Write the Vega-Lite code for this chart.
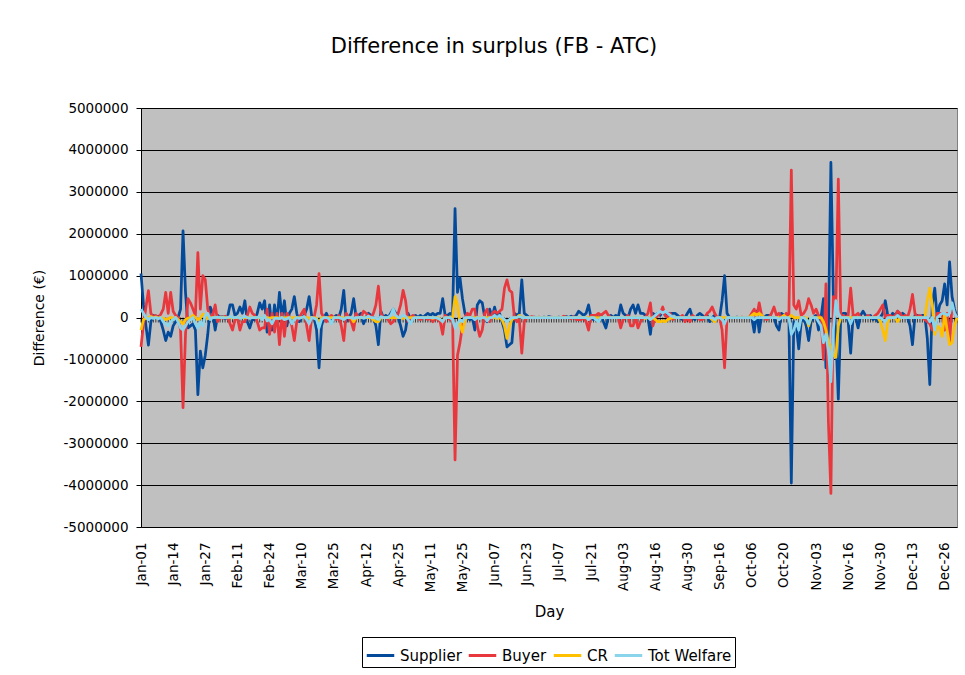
{
"$schema": "https://vega.github.io/schema/vega-lite/v6.json",
"autosize": "none",
"width": 816,
"height": 419,
"padding": {"left": 141, "top": 108, "right": 8, "bottom": 148},
"background": "white",
"title": {"text": "Difference in surplus (FB - ATC)", "fontSize": 21, "fontWeight": "normal", "font": "DejaVu Sans", "color": "black", "anchor": "middle", "frame": "group", "dx": -55, "offset": 44},
"data": {"values": [
{"d":"Jan-01","Supplier":1050000,"Buyer":-700000,"CR":-300000,"Tot Welfare":200000},
{"d":"Jan-02","Supplier":300000,"Buyer":-150000,"CR":-50000,"Tot Welfare":100000},
{"d":"Jan-03","Supplier":-200000,"Buyer":250000,"CR":-20000,"Tot Welfare":0},
{"d":"Jan-04","Supplier":-660000,"Buyer":640000,"CR":0,"Tot Welfare":-50000},
{"d":"Jan-05","Supplier":-100000,"Buyer":100000,"CR":20000,"Tot Welfare":0},
{"d":"Jan-06","Supplier":50000,"Buyer":0,"CR":0,"Tot Welfare":-20000},
{"d":"Jan-07","Supplier":0,"Buyer":50000,"CR":10000,"Tot Welfare":0},
{"d":"Jan-08","Supplier":30000,"Buyer":-20000,"CR":-10000,"Tot Welfare":-30000},
{"d":"Jan-09","Supplier":-100000,"Buyer":80000,"CR":0,"Tot Welfare":0},
{"d":"Jan-10","Supplier":-300000,"Buyer":200000,"CR":-20000,"Tot Welfare":-100000},
{"d":"Jan-11","Supplier":-550000,"Buyer":600000,"CR":-50000,"Tot Welfare":-150000},
{"d":"Jan-12","Supplier":-350000,"Buyer":100000,"CR":-30000,"Tot Welfare":-200000},
{"d":"Jan-13","Supplier":-450000,"Buyer":600000,"CR":0,"Tot Welfare":-100000},
{"d":"Jan-14","Supplier":-200000,"Buyer":150000,"CR":-20000,"Tot Welfare":-50000},
{"d":"Jan-15","Supplier":-100000,"Buyer":50000,"CR":0,"Tot Welfare":0},
{"d":"Jan-16","Supplier":0,"Buyer":0,"CR":-50000,"Tot Welfare":-100000},
{"d":"Jan-17","Supplier":200000,"Buyer":-300000,"CR":-100000,"Tot Welfare":-250000},
{"d":"Jan-18","Supplier":2070000,"Buyer":-2150000,"CR":-150000,"Tot Welfare":-300000},
{"d":"Jan-19","Supplier":600000,"Buyer":-400000,"CR":-50000,"Tot Welfare":-200000},
{"d":"Jan-20","Supplier":-250000,"Buyer":450000,"CR":-20000,"Tot Welfare":-100000},
{"d":"Jan-21","Supplier":-200000,"Buyer":350000,"CR":0,"Tot Welfare":-50000},
{"d":"Jan-22","Supplier":-150000,"Buyer":200000,"CR":50000,"Tot Welfare":0},
{"d":"Jan-23","Supplier":-300000,"Buyer":50000,"CR":0,"Tot Welfare":-150000},
{"d":"Jan-24","Supplier":-1840000,"Buyer":1550000,"CR":-50000,"Tot Welfare":-250000},
{"d":"Jan-25","Supplier":-800000,"Buyer":200000,"CR":-20000,"Tot Welfare":-100000},
{"d":"Jan-26","Supplier":-1200000,"Buyer":1000000,"CR":80000,"Tot Welfare":-200000},
{"d":"Jan-27","Supplier":-900000,"Buyer":900000,"CR":50000,"Tot Welfare":50000},
{"d":"Jan-28","Supplier":-400000,"Buyer":200000,"CR":-30000,"Tot Welfare":100000},
{"d":"Jan-29","Supplier":250000,"Buyer":0,"CR":0,"Tot Welfare":-50000},
{"d":"Jan-30","Supplier":100000,"Buyer":50000,"CR":0,"Tot Welfare":0},
{"d":"Jan-31","Supplier":-300000,"Buyer":300000,"CR":10000,"Tot Welfare":0},
{"d":"Feb-01","Supplier":50000,"Buyer":-100000,"CR":0,"Tot Welfare":10000},
{"d":"Feb-02","Supplier":0,"Buyer":20000,"CR":0,"Tot Welfare":0},
{"d":"Feb-03","Supplier":20000,"Buyer":-20000,"CR":10000,"Tot Welfare":0},
{"d":"Feb-04","Supplier":-30000,"Buyer":30000,"CR":0,"Tot Welfare":-10000},
{"d":"Feb-05","Supplier":10000,"Buyer":0,"CR":0,"Tot Welfare":0},
{"d":"Feb-06","Supplier":300000,"Buyer":-150000,"CR":0,"Tot Welfare":20000},
{"d":"Feb-07","Supplier":300000,"Buyer":-300000,"CR":-10000,"Tot Welfare":0},
{"d":"Feb-08","Supplier":50000,"Buyer":-50000,"CR":0,"Tot Welfare":0},
{"d":"Feb-11","Supplier":100000,"Buyer":0,"CR":0,"Tot Welfare":10000},
{"d":"Feb-12","Supplier":250000,"Buyer":-300000,"CR":-10000,"Tot Welfare":-20000},
{"d":"Feb-13","Supplier":100000,"Buyer":-100000,"CR":0,"Tot Welfare":0},
{"d":"Feb-14","Supplier":400000,"Buyer":-100000,"CR":0,"Tot Welfare":30000},
{"d":"Feb-15","Supplier":-100000,"Buyer":50000,"CR":0,"Tot Welfare":0},
{"d":"Feb-16","Supplier":-250000,"Buyer":250000,"CR":0,"Tot Welfare":-20000},
{"d":"Feb-17","Supplier":-50000,"Buyer":100000,"CR":0,"Tot Welfare":0},
{"d":"Feb-18","Supplier":-50000,"Buyer":50000,"CR":0,"Tot Welfare":0},
{"d":"Feb-19","Supplier":100000,"Buyer":-100000,"CR":0,"Tot Welfare":0},
{"d":"Feb-20","Supplier":350000,"Buyer":-300000,"CR":-10000,"Tot Welfare":20000},
{"d":"Feb-21","Supplier":200000,"Buyer":-250000,"CR":0,"Tot Welfare":-50000},
{"d":"Feb-22","Supplier":400000,"Buyer":-250000,"CR":0,"Tot Welfare":50000},
{"d":"Feb-23","Supplier":-350000,"Buyer":200000,"CR":0,"Tot Welfare":-80000},
{"d":"Feb-24","Supplier":300000,"Buyer":-400000,"CR":-20000,"Tot Welfare":-50000},
{"d":"Feb-25","Supplier":-300000,"Buyer":100000,"CR":0,"Tot Welfare":-150000},
{"d":"Feb-26","Supplier":300000,"Buyer":-350000,"CR":0,"Tot Welfare":-20000},
{"d":"Feb-27","Supplier":-100000,"Buyer":100000,"CR":0,"Tot Welfare":-20000},
{"d":"Feb-28","Supplier":600000,"Buyer":-650000,"CR":-20000,"Tot Welfare":-30000},
{"d":"Mar-01","Supplier":0,"Buyer":100000,"CR":0,"Tot Welfare":0},
{"d":"Mar-02","Supplier":400000,"Buyer":-450000,"CR":-10000,"Tot Welfare":-50000},
{"d":"Mar-03","Supplier":-200000,"Buyer":100000,"CR":0,"Tot Welfare":-30000},
{"d":"Mar-04","Supplier":100000,"Buyer":0,"CR":0,"Tot Welfare":0},
{"d":"Mar-05","Supplier":200000,"Buyer":-200000,"CR":-10000,"Tot Welfare":-150000},
{"d":"Mar-06","Supplier":500000,"Buyer":-550000,"CR":0,"Tot Welfare":-50000},
{"d":"Mar-07","Supplier":100000,"Buyer":-100000,"CR":0,"Tot Welfare":0},
{"d":"Mar-08","Supplier":-100000,"Buyer":0,"CR":0,"Tot Welfare":-20000},
{"d":"Mar-10","Supplier":0,"Buyer":100000,"CR":0,"Tot Welfare":0},
{"d":"Mar-11","Supplier":50000,"Buyer":200000,"CR":10000,"Tot Welfare":20000},
{"d":"Mar-12","Supplier":200000,"Buyer":-200000,"CR":0,"Tot Welfare":-50000},
{"d":"Mar-13","Supplier":500000,"Buyer":-550000,"CR":-20000,"Tot Welfare":-150000},
{"d":"Mar-14","Supplier":50000,"Buyer":0,"CR":0,"Tot Welfare":0},
{"d":"Mar-15","Supplier":0,"Buyer":0,"CR":0,"Tot Welfare":-20000},
{"d":"Mar-16","Supplier":-300000,"Buyer":300000,"CR":-20000,"Tot Welfare":-50000},
{"d":"Mar-17","Supplier":-1200000,"Buyer":1050000,"CR":-150000,"Tot Welfare":-250000},
{"d":"Mar-18","Supplier":-200000,"Buyer":100000,"CR":0,"Tot Welfare":-50000},
{"d":"Mar-19","Supplier":0,"Buyer":0,"CR":0,"Tot Welfare":0},
{"d":"Mar-20","Supplier":100000,"Buyer":-100000,"CR":0,"Tot Welfare":0},
{"d":"Mar-21","Supplier":-50000,"Buyer":0,"CR":0,"Tot Welfare":-30000},
{"d":"Mar-22","Supplier":-100000,"Buyer":50000,"CR":0,"Tot Welfare":-150000},
{"d":"Mar-25","Supplier":0,"Buyer":0,"CR":0,"Tot Welfare":0},
{"d":"Mar-26","Supplier":50000,"Buyer":-50000,"CR":0,"Tot Welfare":0},
{"d":"Mar-27","Supplier":0,"Buyer":50000,"CR":0,"Tot Welfare":0},
{"d":"Mar-28","Supplier":200000,"Buyer":-200000,"CR":0,"Tot Welfare":-20000},
{"d":"Mar-29","Supplier":650000,"Buyer":-550000,"CR":-20000,"Tot Welfare":-50000},
{"d":"Mar-30","Supplier":-100000,"Buyer":100000,"CR":0,"Tot Welfare":0},
{"d":"Mar-31","Supplier":0,"Buyer":0,"CR":0,"Tot Welfare":0},
{"d":"Apr-01","Supplier":100000,"Buyer":-100000,"CR":-10000,"Tot Welfare":0},
{"d":"Apr-02","Supplier":450000,"Buyer":-300000,"CR":-100000,"Tot Welfare":-30000},
{"d":"Apr-03","Supplier":0,"Buyer":100000,"CR":0,"Tot Welfare":0},
{"d":"Apr-04","Supplier":50000,"Buyer":0,"CR":0,"Tot Welfare":0},
{"d":"Apr-05","Supplier":100000,"Buyer":0,"CR":0,"Tot Welfare":10000},
{"d":"Apr-06","Supplier":-150000,"Buyer":150000,"CR":0,"Tot Welfare":-20000},
{"d":"Apr-12","Supplier":0,"Buyer":100000,"CR":0,"Tot Welfare":0},
{"d":"Apr-13","Supplier":100000,"Buyer":50000,"CR":0,"Tot Welfare":30000},
{"d":"Apr-14","Supplier":50000,"Buyer":0,"CR":0,"Tot Welfare":0},
{"d":"Apr-15","Supplier":0,"Buyer":100000,"CR":-50000,"Tot Welfare":0},
{"d":"Apr-16","Supplier":-200000,"Buyer":300000,"CR":-100000,"Tot Welfare":-20000},
{"d":"Apr-17","Supplier":-650000,"Buyer":750000,"CR":-100000,"Tot Welfare":-50000},
{"d":"Apr-18","Supplier":150000,"Buyer":100000,"CR":0,"Tot Welfare":20000},
{"d":"Apr-19","Supplier":0,"Buyer":0,"CR":0,"Tot Welfare":0},
{"d":"Apr-20","Supplier":50000,"Buyer":0,"CR":0,"Tot Welfare":0},
{"d":"Apr-21","Supplier":0,"Buyer":-50000,"CR":0,"Tot Welfare":0},
{"d":"Apr-22","Supplier":100000,"Buyer":-150000,"CR":0,"Tot Welfare":50000},
{"d":"Apr-23","Supplier":200000,"Buyer":-100000,"CR":0,"Tot Welfare":200000},
{"d":"Apr-24","Supplier":100000,"Buyer":0,"CR":0,"Tot Welfare":50000},
{"d":"Apr-25","Supplier":0,"Buyer":100000,"CR":0,"Tot Welfare":0},
{"d":"Apr-26","Supplier":-200000,"Buyer":300000,"CR":0,"Tot Welfare":0},
{"d":"Apr-27","Supplier":-450000,"Buyer":650000,"CR":-20000,"Tot Welfare":50000},
{"d":"Apr-28","Supplier":-300000,"Buyer":400000,"CR":0,"Tot Welfare":30000},
{"d":"Apr-29","Supplier":100000,"Buyer":-100000,"CR":0,"Tot Welfare":-50000},
{"d":"Apr-30","Supplier":-50000,"Buyer":0,"CR":0,"Tot Welfare":-150000},
{"d":"May-01","Supplier":0,"Buyer":50000,"CR":0,"Tot Welfare":-20000},
{"d":"May-02","Supplier":50000,"Buyer":0,"CR":0,"Tot Welfare":0},
{"d":"May-03","Supplier":0,"Buyer":0,"CR":0,"Tot Welfare":0},
{"d":"May-04","Supplier":50000,"Buyer":-50000,"CR":0,"Tot Welfare":0},
{"d":"May-05","Supplier":0,"Buyer":0,"CR":0,"Tot Welfare":0},
{"d":"May-06","Supplier":50000,"Buyer":0,"CR":0,"Tot Welfare":0},
{"d":"May-07","Supplier":100000,"Buyer":-50000,"CR":0,"Tot Welfare":0},
{"d":"May-11","Supplier":50000,"Buyer":0,"CR":0,"Tot Welfare":0},
{"d":"May-12","Supplier":100000,"Buyer":-100000,"CR":-20000,"Tot Welfare":0},
{"d":"May-13","Supplier":50000,"Buyer":0,"CR":0,"Tot Welfare":0},
{"d":"May-14","Supplier":100000,"Buyer":-50000,"CR":0,"Tot Welfare":-20000},
{"d":"May-15","Supplier":100000,"Buyer":-100000,"CR":-50000,"Tot Welfare":-50000},
{"d":"May-16","Supplier":450000,"Buyer":-400000,"CR":-80000,"Tot Welfare":-100000},
{"d":"May-17","Supplier":50000,"Buyer":50000,"CR":0,"Tot Welfare":0},
{"d":"May-18","Supplier":50000,"Buyer":0,"CR":0,"Tot Welfare":0},
{"d":"May-19","Supplier":100000,"Buyer":-50000,"CR":0,"Tot Welfare":0},
{"d":"May-20","Supplier":50000,"Buyer":0,"CR":0,"Tot Welfare":-50000},
{"d":"May-21","Supplier":2600000,"Buyer":-3400000,"CR":500000,"Tot Welfare":-250000},
{"d":"May-22","Supplier":600000,"Buyer":-900000,"CR":300000,"Tot Welfare":-150000},
{"d":"May-23","Supplier":950000,"Buyer":-600000,"CR":-150000,"Tot Welfare":-50000},
{"d":"May-25","Supplier":450000,"Buyer":-200000,"CR":-350000,"Tot Welfare":-100000},
{"d":"May-26","Supplier":100000,"Buyer":0,"CR":-50000,"Tot Welfare":0},
{"d":"May-27","Supplier":0,"Buyer":100000,"CR":0,"Tot Welfare":0},
{"d":"May-28","Supplier":-50000,"Buyer":50000,"CR":0,"Tot Welfare":0},
{"d":"May-29","Supplier":0,"Buyer":200000,"CR":0,"Tot Welfare":0},
{"d":"May-30","Supplier":-300000,"Buyer":200000,"CR":0,"Tot Welfare":-50000},
{"d":"May-31","Supplier":300000,"Buyer":-200000,"CR":0,"Tot Welfare":0},
{"d":"Jun-01","Supplier":400000,"Buyer":-450000,"CR":-20000,"Tot Welfare":-30000},
{"d":"Jun-02","Supplier":350000,"Buyer":-300000,"CR":0,"Tot Welfare":0},
{"d":"Jun-03","Supplier":0,"Buyer":100000,"CR":0,"Tot Welfare":0},
{"d":"Jun-04","Supplier":-100000,"Buyer":200000,"CR":0,"Tot Welfare":-80000},
{"d":"Jun-05","Supplier":200000,"Buyer":-100000,"CR":0,"Tot Welfare":0},
{"d":"Jun-06","Supplier":0,"Buyer":100000,"CR":0,"Tot Welfare":0},
{"d":"Jun-07","Supplier":250000,"Buyer":150000,"CR":0,"Tot Welfare":50000},
{"d":"Jun-08","Supplier":0,"Buyer":100000,"CR":-20000,"Tot Welfare":0},
{"d":"Jun-09","Supplier":100000,"Buyer":150000,"CR":0,"Tot Welfare":50000},
{"d":"Jun-10","Supplier":-100000,"Buyer":200000,"CR":-50000,"Tot Welfare":0},
{"d":"Jun-11","Supplier":-300000,"Buyer":700000,"CR":-200000,"Tot Welfare":-50000},
{"d":"Jun-12","Supplier":-700000,"Buyer":900000,"CR":-500000,"Tot Welfare":-100000},
{"d":"Jun-13","Supplier":-650000,"Buyer":650000,"CR":-200000,"Tot Welfare":-50000},
{"d":"Jun-14","Supplier":-600000,"Buyer":600000,"CR":-50000,"Tot Welfare":0},
{"d":"Jun-15","Supplier":100000,"Buyer":0,"CR":0,"Tot Welfare":0},
{"d":"Jun-16","Supplier":50000,"Buyer":-100000,"CR":0,"Tot Welfare":0},
{"d":"Jun-17","Supplier":100000,"Buyer":-50000,"CR":50000,"Tot Welfare":20000},
{"d":"Jun-18","Supplier":900000,"Buyer":-850000,"CR":0,"Tot Welfare":0},
{"d":"Jun-19","Supplier":100000,"Buyer":-100000,"CR":0,"Tot Welfare":0},
{"d":"Jun-23","Supplier":50000,"Buyer":0,"CR":0,"Tot Welfare":0},
{"d":"Jun-24","Supplier":0,"Buyer":0,"CR":0,"Tot Welfare":0},
{"d":"Jun-25","Supplier":0,"Buyer":20000,"CR":0,"Tot Welfare":0},
{"d":"Jun-26","Supplier":10000,"Buyer":0,"CR":0,"Tot Welfare":0},
{"d":"Jun-27","Supplier":0,"Buyer":0,"CR":0,"Tot Welfare":0},
{"d":"Jun-28","Supplier":0,"Buyer":10000,"CR":0,"Tot Welfare":0},
{"d":"Jun-29","Supplier":0,"Buyer":0,"CR":0,"Tot Welfare":0},
{"d":"Jun-30","Supplier":10000,"Buyer":-10000,"CR":0,"Tot Welfare":0},
{"d":"Jul-01","Supplier":0,"Buyer":0,"CR":0,"Tot Welfare":0},
{"d":"Jul-02","Supplier":20000,"Buyer":0,"CR":0,"Tot Welfare":0},
{"d":"Jul-03","Supplier":0,"Buyer":10000,"CR":0,"Tot Welfare":0},
{"d":"Jul-04","Supplier":0,"Buyer":0,"CR":0,"Tot Welfare":0},
{"d":"Jul-05","Supplier":0,"Buyer":0,"CR":0,"Tot Welfare":0},
{"d":"Jul-07","Supplier":10000,"Buyer":0,"CR":0,"Tot Welfare":0},
{"d":"Jul-08","Supplier":0,"Buyer":0,"CR":0,"Tot Welfare":0},
{"d":"Jul-09","Supplier":0,"Buyer":30000,"CR":0,"Tot Welfare":0},
{"d":"Jul-10","Supplier":20000,"Buyer":0,"CR":0,"Tot Welfare":0},
{"d":"Jul-11","Supplier":0,"Buyer":0,"CR":0,"Tot Welfare":0},
{"d":"Jul-12","Supplier":30000,"Buyer":-30000,"CR":0,"Tot Welfare":0},
{"d":"Jul-13","Supplier":0,"Buyer":20000,"CR":0,"Tot Welfare":0},
{"d":"Jul-14","Supplier":50000,"Buyer":-50000,"CR":0,"Tot Welfare":0},
{"d":"Jul-15","Supplier":150000,"Buyer":-50000,"CR":0,"Tot Welfare":0},
{"d":"Jul-16","Supplier":100000,"Buyer":-50000,"CR":0,"Tot Welfare":0},
{"d":"Jul-17","Supplier":50000,"Buyer":0,"CR":0,"Tot Welfare":0},
{"d":"Jul-18","Supplier":100000,"Buyer":-100000,"CR":0,"Tot Welfare":0},
{"d":"Jul-19","Supplier":300000,"Buyer":-300000,"CR":0,"Tot Welfare":-50000},
{"d":"Jul-21","Supplier":0,"Buyer":50000,"CR":0,"Tot Welfare":0},
{"d":"Jul-22","Supplier":-50000,"Buyer":50000,"CR":0,"Tot Welfare":0},
{"d":"Jul-23","Supplier":50000,"Buyer":50000,"CR":0,"Tot Welfare":-50000},
{"d":"Jul-24","Supplier":0,"Buyer":100000,"CR":0,"Tot Welfare":-100000},
{"d":"Jul-25","Supplier":50000,"Buyer":50000,"CR":0,"Tot Welfare":0},
{"d":"Jul-26","Supplier":-100000,"Buyer":100000,"CR":0,"Tot Welfare":0},
{"d":"Jul-27","Supplier":-250000,"Buyer":150000,"CR":0,"Tot Welfare":0},
{"d":"Jul-28","Supplier":0,"Buyer":50000,"CR":0,"Tot Welfare":0},
{"d":"Jul-29","Supplier":50000,"Buyer":0,"CR":0,"Tot Welfare":0},
{"d":"Jul-30","Supplier":0,"Buyer":0,"CR":0,"Tot Welfare":0},
{"d":"Jul-31","Supplier":50000,"Buyer":0,"CR":0,"Tot Welfare":0},
{"d":"Aug-01","Supplier":0,"Buyer":0,"CR":0,"Tot Welfare":0},
{"d":"Aug-02","Supplier":300000,"Buyer":-250000,"CR":0,"Tot Welfare":0},
{"d":"Aug-03","Supplier":100000,"Buyer":-50000,"CR":0,"Tot Welfare":0},
{"d":"Aug-04","Supplier":50000,"Buyer":0,"CR":0,"Tot Welfare":0},
{"d":"Aug-05","Supplier":0,"Buyer":50000,"CR":0,"Tot Welfare":0},
{"d":"Aug-06","Supplier":200000,"Buyer":-200000,"CR":0,"Tot Welfare":0},
{"d":"Aug-07","Supplier":300000,"Buyer":-200000,"CR":0,"Tot Welfare":0},
{"d":"Aug-08","Supplier":100000,"Buyer":0,"CR":0,"Tot Welfare":0},
{"d":"Aug-09","Supplier":300000,"Buyer":-250000,"CR":0,"Tot Welfare":0},
{"d":"Aug-10","Supplier":100000,"Buyer":-100000,"CR":0,"Tot Welfare":0},
{"d":"Aug-11","Supplier":100000,"Buyer":0,"CR":0,"Tot Welfare":0},
{"d":"Aug-12","Supplier":50000,"Buyer":0,"CR":-20000,"Tot Welfare":0},
{"d":"Aug-13","Supplier":0,"Buyer":100000,"CR":0,"Tot Welfare":0},
{"d":"Aug-14","Supplier":-400000,"Buyer":350000,"CR":-20000,"Tot Welfare":-50000},
{"d":"Aug-15","Supplier":100000,"Buyer":-200000,"CR":0,"Tot Welfare":0},
{"d":"Aug-16","Supplier":50000,"Buyer":0,"CR":-50000,"Tot Welfare":50000},
{"d":"Aug-17","Supplier":100000,"Buyer":50000,"CR":-100000,"Tot Welfare":100000},
{"d":"Aug-18","Supplier":50000,"Buyer":100000,"CR":-100000,"Tot Welfare":150000},
{"d":"Aug-19","Supplier":150000,"Buyer":250000,"CR":-80000,"Tot Welfare":100000},
{"d":"Aug-20","Supplier":50000,"Buyer":50000,"CR":-100000,"Tot Welfare":150000},
{"d":"Aug-21","Supplier":100000,"Buyer":0,"CR":-50000,"Tot Welfare":100000},
{"d":"Aug-22","Supplier":100000,"Buyer":100000,"CR":-20000,"Tot Welfare":50000},
{"d":"Aug-23","Supplier":100000,"Buyer":-50000,"CR":0,"Tot Welfare":20000},
{"d":"Aug-24","Supplier":100000,"Buyer":0,"CR":0,"Tot Welfare":0},
{"d":"Aug-25","Supplier":50000,"Buyer":0,"CR":0,"Tot Welfare":0},
{"d":"Aug-26","Supplier":0,"Buyer":0,"CR":0,"Tot Welfare":0},
{"d":"Aug-27","Supplier":-50000,"Buyer":50000,"CR":0,"Tot Welfare":0},
{"d":"Aug-28","Supplier":0,"Buyer":-100000,"CR":0,"Tot Welfare":0},
{"d":"Aug-30","Supplier":100000,"Buyer":0,"CR":0,"Tot Welfare":0},
{"d":"Aug-31","Supplier":200000,"Buyer":-100000,"CR":0,"Tot Welfare":0},
{"d":"Sep-01","Supplier":0,"Buyer":50000,"CR":0,"Tot Welfare":0},
{"d":"Sep-02","Supplier":-50000,"Buyer":0,"CR":0,"Tot Welfare":0},
{"d":"Sep-03","Supplier":50000,"Buyer":0,"CR":0,"Tot Welfare":0},
{"d":"Sep-04","Supplier":100000,"Buyer":-50000,"CR":0,"Tot Welfare":0},
{"d":"Sep-05","Supplier":50000,"Buyer":-50000,"CR":0,"Tot Welfare":0},
{"d":"Sep-06","Supplier":0,"Buyer":0,"CR":0,"Tot Welfare":0},
{"d":"Sep-07","Supplier":50000,"Buyer":100000,"CR":0,"Tot Welfare":0},
{"d":"Sep-08","Supplier":-100000,"Buyer":150000,"CR":0,"Tot Welfare":0},
{"d":"Sep-09","Supplier":0,"Buyer":250000,"CR":-50000,"Tot Welfare":0},
{"d":"Sep-10","Supplier":50000,"Buyer":100000,"CR":-100000,"Tot Welfare":-50000},
{"d":"Sep-11","Supplier":0,"Buyer":0,"CR":0,"Tot Welfare":0},
{"d":"Sep-16","Supplier":0,"Buyer":0,"CR":0,"Tot Welfare":0},
{"d":"Sep-17","Supplier":400000,"Buyer":-300000,"CR":0,"Tot Welfare":-50000},
{"d":"Sep-18","Supplier":1000000,"Buyer":-1200000,"CR":0,"Tot Welfare":-150000},
{"d":"Sep-19","Supplier":100000,"Buyer":0,"CR":0,"Tot Welfare":0},
{"d":"Sep-20","Supplier":0,"Buyer":0,"CR":0,"Tot Welfare":0},
{"d":"Sep-21","Supplier":0,"Buyer":0,"CR":0,"Tot Welfare":0},
{"d":"Sep-22","Supplier":0,"Buyer":0,"CR":0,"Tot Welfare":0},
{"d":"Sep-23","Supplier":10000,"Buyer":0,"CR":0,"Tot Welfare":0},
{"d":"Sep-24","Supplier":0,"Buyer":0,"CR":0,"Tot Welfare":0},
{"d":"Sep-25","Supplier":0,"Buyer":10000,"CR":0,"Tot Welfare":0},
{"d":"Sep-26","Supplier":0,"Buyer":0,"CR":0,"Tot Welfare":0},
{"d":"Sep-27","Supplier":0,"Buyer":0,"CR":0,"Tot Welfare":0},
{"d":"Sep-28","Supplier":0,"Buyer":0,"CR":0,"Tot Welfare":0},
{"d":"Oct-06","Supplier":0,"Buyer":100000,"CR":50000,"Tot Welfare":0},
{"d":"Oct-07","Supplier":-350000,"Buyer":200000,"CR":100000,"Tot Welfare":-50000},
{"d":"Oct-08","Supplier":150000,"Buyer":0,"CR":50000,"Tot Welfare":0},
{"d":"Oct-09","Supplier":-350000,"Buyer":350000,"CR":100000,"Tot Welfare":0},
{"d":"Oct-10","Supplier":50000,"Buyer":50000,"CR":50000,"Tot Welfare":0},
{"d":"Oct-11","Supplier":0,"Buyer":0,"CR":0,"Tot Welfare":0},
{"d":"Oct-12","Supplier":50000,"Buyer":-50000,"CR":0,"Tot Welfare":0},
{"d":"Oct-13","Supplier":50000,"Buyer":0,"CR":0,"Tot Welfare":0},
{"d":"Oct-14","Supplier":0,"Buyer":100000,"CR":0,"Tot Welfare":0},
{"d":"Oct-15","Supplier":0,"Buyer":250000,"CR":0,"Tot Welfare":0},
{"d":"Oct-16","Supplier":-200000,"Buyer":50000,"CR":0,"Tot Welfare":0},
{"d":"Oct-17","Supplier":-300000,"Buyer":100000,"CR":0,"Tot Welfare":-50000},
{"d":"Oct-18","Supplier":100000,"Buyer":0,"CR":0,"Tot Welfare":0},
{"d":"Oct-20","Supplier":50000,"Buyer":0,"CR":50000,"Tot Welfare":0},
{"d":"Oct-21","Supplier":0,"Buyer":100000,"CR":0,"Tot Welfare":0},
{"d":"Oct-22","Supplier":50000,"Buyer":0,"CR":0,"Tot Welfare":0},
{"d":"Oct-23","Supplier":-3950000,"Buyer":3520000,"CR":50000,"Tot Welfare":-400000},
{"d":"Oct-24","Supplier":-100000,"Buyer":300000,"CR":0,"Tot Welfare":-300000},
{"d":"Oct-25","Supplier":-200000,"Buyer":200000,"CR":0,"Tot Welfare":-100000},
{"d":"Oct-26","Supplier":-750000,"Buyer":400000,"CR":0,"Tot Welfare":-300000},
{"d":"Oct-27","Supplier":-100000,"Buyer":50000,"CR":0,"Tot Welfare":0},
{"d":"Oct-28","Supplier":0,"Buyer":100000,"CR":0,"Tot Welfare":0},
{"d":"Oct-29","Supplier":-200000,"Buyer":200000,"CR":0,"Tot Welfare":-50000},
{"d":"Oct-30","Supplier":-550000,"Buyer":450000,"CR":-200000,"Tot Welfare":-150000},
{"d":"Oct-31","Supplier":-100000,"Buyer":300000,"CR":0,"Tot Welfare":0},
{"d":"Nov-01","Supplier":0,"Buyer":100000,"CR":0,"Tot Welfare":0},
{"d":"Nov-03","Supplier":50000,"Buyer":200000,"CR":0,"Tot Welfare":0},
{"d":"Nov-04","Supplier":-300000,"Buyer":50000,"CR":0,"Tot Welfare":-100000},
{"d":"Nov-05","Supplier":0,"Buyer":0,"CR":0,"Tot Welfare":-200000},
{"d":"Nov-06","Supplier":450000,"Buyer":-1000000,"CR":-100000,"Tot Welfare":-600000},
{"d":"Nov-07","Supplier":-1200000,"Buyer":800000,"CR":-300000,"Tot Welfare":-400000},
{"d":"Nov-08","Supplier":-300000,"Buyer":-2500000,"CR":-600000,"Tot Welfare":-800000},
{"d":"Nov-09","Supplier":3700000,"Buyer":-4200000,"CR":-700000,"Tot Welfare":-1530000},
{"d":"Nov-10","Supplier":500000,"Buyer":500000,"CR":-900000,"Tot Welfare":-300000},
{"d":"Nov-11","Supplier":-400000,"Buyer":300000,"CR":-950000,"Tot Welfare":400000},
{"d":"Nov-12","Supplier":-1950000,"Buyer":3300000,"CR":-200000,"Tot Welfare":100000},
{"d":"Nov-13","Supplier":50000,"Buyer":0,"CR":0,"Tot Welfare":0},
{"d":"Nov-14","Supplier":100000,"Buyer":50000,"CR":0,"Tot Welfare":0},
{"d":"Nov-15","Supplier":100000,"Buyer":0,"CR":0,"Tot Welfare":0},
{"d":"Nov-16","Supplier":-100000,"Buyer":50000,"CR":0,"Tot Welfare":0},
{"d":"Nov-17","Supplier":-850000,"Buyer":700000,"CR":0,"Tot Welfare":-150000},
{"d":"Nov-18","Supplier":50000,"Buyer":50000,"CR":0,"Tot Welfare":0},
{"d":"Nov-19","Supplier":0,"Buyer":50000,"CR":0,"Tot Welfare":0},
{"d":"Nov-20","Supplier":-250000,"Buyer":100000,"CR":0,"Tot Welfare":0},
{"d":"Nov-21","Supplier":50000,"Buyer":0,"CR":0,"Tot Welfare":0},
{"d":"Nov-22","Supplier":150000,"Buyer":0,"CR":0,"Tot Welfare":0},
{"d":"Nov-23","Supplier":50000,"Buyer":0,"CR":0,"Tot Welfare":0},
{"d":"Nov-24","Supplier":0,"Buyer":50000,"CR":0,"Tot Welfare":0},
{"d":"Nov-25","Supplier":50000,"Buyer":0,"CR":0,"Tot Welfare":0},
{"d":"Nov-26","Supplier":-50000,"Buyer":0,"CR":0,"Tot Welfare":0},
{"d":"Nov-27","Supplier":0,"Buyer":50000,"CR":0,"Tot Welfare":0},
{"d":"Nov-28","Supplier":-100000,"Buyer":100000,"CR":0,"Tot Welfare":0},
{"d":"Nov-30","Supplier":0,"Buyer":200000,"CR":-100000,"Tot Welfare":0},
{"d":"Dec-01","Supplier":100000,"Buyer":300000,"CR":-300000,"Tot Welfare":-50000},
{"d":"Dec-02","Supplier":400000,"Buyer":0,"CR":-550000,"Tot Welfare":-100000},
{"d":"Dec-03","Supplier":50000,"Buyer":50000,"CR":-100000,"Tot Welfare":0},
{"d":"Dec-04","Supplier":0,"Buyer":50000,"CR":0,"Tot Welfare":0},
{"d":"Dec-05","Supplier":100000,"Buyer":0,"CR":0,"Tot Welfare":0},
{"d":"Dec-06","Supplier":50000,"Buyer":50000,"CR":0,"Tot Welfare":0},
{"d":"Dec-07","Supplier":150000,"Buyer":150000,"CR":-100000,"Tot Welfare":50000},
{"d":"Dec-08","Supplier":0,"Buyer":100000,"CR":0,"Tot Welfare":0},
{"d":"Dec-09","Supplier":100000,"Buyer":0,"CR":0,"Tot Welfare":0},
{"d":"Dec-10","Supplier":50000,"Buyer":50000,"CR":0,"Tot Welfare":0},
{"d":"Dec-11","Supplier":0,"Buyer":0,"CR":0,"Tot Welfare":0},
{"d":"Dec-12","Supplier":-200000,"Buyer":200000,"CR":0,"Tot Welfare":0},
{"d":"Dec-13","Supplier":-650000,"Buyer":550000,"CR":0,"Tot Welfare":0},
{"d":"Dec-14","Supplier":50000,"Buyer":100000,"CR":0,"Tot Welfare":0},
{"d":"Dec-15","Supplier":50000,"Buyer":0,"CR":0,"Tot Welfare":0},
{"d":"Dec-16","Supplier":0,"Buyer":50000,"CR":0,"Tot Welfare":0},
{"d":"Dec-17","Supplier":50000,"Buyer":0,"CR":0,"Tot Welfare":0},
{"d":"Dec-18","Supplier":50000,"Buyer":-50000,"CR":0,"Tot Welfare":0},
{"d":"Dec-19","Supplier":-500000,"Buyer":-100000,"CR":400000,"Tot Welfare":0},
{"d":"Dec-20","Supplier":-1600000,"Buyer":-150000,"CR":700000,"Tot Welfare":-100000},
{"d":"Dec-21","Supplier":300000,"Buyer":-300000,"CR":300000,"Tot Welfare":0},
{"d":"Dec-22","Supplier":700000,"Buyer":-300000,"CR":-400000,"Tot Welfare":-300000},
{"d":"Dec-23","Supplier":0,"Buyer":100000,"CR":-200000,"Tot Welfare":0},
{"d":"Dec-24","Supplier":300000,"Buyer":100000,"CR":-250000,"Tot Welfare":50000},
{"d":"Dec-25","Supplier":400000,"Buyer":100000,"CR":-450000,"Tot Welfare":100000},
{"d":"Dec-26","Supplier":800000,"Buyer":-300000,"CR":100000,"Tot Welfare":100000},
{"d":"Dec-27","Supplier":300000,"Buyer":100000,"CR":-300000,"Tot Welfare":50000},
{"d":"Dec-28","Supplier":1330000,"Buyer":-600000,"CR":-650000,"Tot Welfare":100000},
{"d":"Dec-29","Supplier":500000,"Buyer":300000,"CR":-600000,"Tot Welfare":350000},
{"d":"Dec-30","Supplier":200000,"Buyer":100000,"CR":-200000,"Tot Welfare":100000},
{"d":"Dec-31","Supplier":0,"Buyer":0,"CR":0,"Tot Welfare":0}
]},
"encoding": {
  "x": {"field": "d", "type": "ordinal", "sort": null, "title": "Day",
    "scale": {"type": "point", "padding": 0},
    "axis": {"values": ["Jan-01","Jan-14","Jan-27","Feb-11","Feb-24","Mar-10","Mar-25","Apr-12","Apr-25","May-11","May-25","Jun-07","Jun-23","Jul-07","Jul-21","Aug-03","Aug-16","Aug-30","Sep-16","Oct-06","Oct-20","Nov-03","Nov-16","Nov-30","Dec-13","Dec-26"],
      "labelAngle": -90, "labelFontSize": 13.5, "labelColor": "black", "ticks": false, "domain": false, "grid": false, "labelPadding": 15,
      "titleFontSize": 15, "titleFontWeight": "normal", "titleColor": "black", "titlePadding": 13}}
},
"layer": [
  {"mark": {"type": "tick", "orient": "vertical", "size": 5, "thickness": 1, "color": "black", "yOffset": 2.5},
   "encoding": {"y": {"datum": 0, "type": "quantitative", "title": "Difference (€)"}}},
  {"transform": [{"fold": ["Supplier", "Buyer", "CR", "Tot Welfare"], "as": ["series", "value"]}],
   "mark": {"type": "line", "strokeWidth": 2.75, "strokeJoin": "round"},
   "encoding": {
     "y": {"field": "value", "type": "quantitative", "title": "Difference (€)",
       "scale": {"domain": [-5000000, 5000000], "nice": false, "zero": false},
       "axis": {"values": [-5000000,-4000000,-3000000,-2000000,-1000000,0,1000000,2000000,3000000,4000000,5000000],
         "labelExpr": "replace(datum.label, '−', '-')", "format": "d",
         "labelFontSize": 13.5, "labelColor": "black", "labelPadding": 8, "tickSize": 5, "tickColor": "black", "domainColor": "black",
         "grid": true, "gridColor": "black", "gridOpacity": 1, "gridWidth": 1,
         "titleFontSize": 14, "titleFontWeight": "normal", "titleColor": "black", "titlePadding": 17}},
     "color": {"field": "series", "type": "nominal", "sort": ["Supplier", "Buyer", "CR", "Tot Welfare"],
       "scale": {"domain": ["Supplier", "Buyer", "CR", "Tot Welfare"], "range": ["#044A9B", "#E8383E", "#FFC000", "#8AD4EC"]},
       "legend": {"orient": "none", "legendX": 221, "legendY": 529, "direction": "horizontal", "title": null, "gridAlign": "none",
         "labelFontSize": 15, "labelColor": "black", "symbolType": "stroke", "symbolSize": 756, "symbolStrokeWidth": 3,
         "strokeColor": "black", "fillColor": "white", "padding": 3, "columnPadding": 0, "labelOffset": 4}}
   }}
],
"config": {
  "font": "DejaVu Sans",
  "view": {"fill": "#C0C0C0", "stroke": "#808080"},
  "axis": {"labelFont": "DejaVu Sans", "titleFont": "DejaVu Sans"},
  "legend": {"labelFont": "DejaVu Sans"}
}
}
